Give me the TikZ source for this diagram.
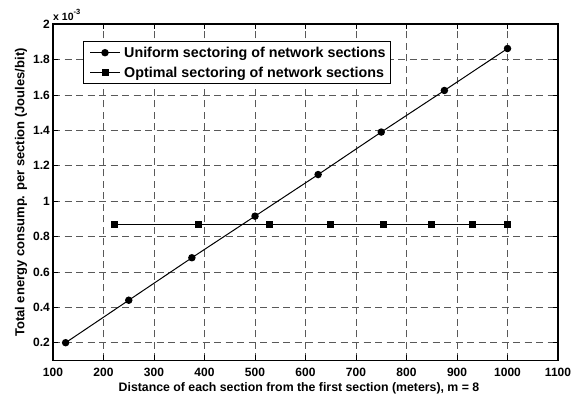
\documentclass[tikz,border=0pt]{standalone}
\usepackage{fontspec}
\setmainfont{Liberation Sans}
\begin{document}
\begin{tikzpicture}[x=1pt,y=1pt,
  font=\bfseries,
  ticklab/.style={font=\bfseries\fontsize{12}{14}\selectfont, inner sep=0pt},
  axlab/.style={font=\bfseries\fontsize{12.3}{14}\selectfont, inner sep=0pt},
  leglab/.style={font=\bfseries\fontsize{14.3}{16}\selectfont, inner sep=0pt, anchor=base west},
  gridline/.style={dash pattern=on 7pt off 4.5pt, black!65, line width=0.7pt},
  tickmark/.style={black, line width=0.7pt},
  frame/.style={black, line width=1.4pt},
  dataline/.style={black, line width=1pt},
  circmark/.style={circle, fill=black, inner sep=0pt, minimum size=7.5pt},
  sqmark/.style={rectangle, fill=black, inner sep=0pt, minimum size=7pt}
]
\useasboundingbox (0,0) rectangle (583,-402);
\fill[white] (0,0) rectangle (583,-402);
\begin{scope}[shift={(2.5pt,-378.1pt)}, x=0.505pt, y=177pt]
  % axes corners
  \coordinate (ll) at (100,0.1);
  \coordinate (ur) at (1100,2.0);
  % grid
  \foreach \X in {200,300,...,1000} \draw[gridline] (\X,0.1) -- (\X,2.0);
  \foreach \Y in {0.2,0.4,...,1.81} \draw[gridline] (100,\Y) -- (1100,\Y);
  % ticks
  \foreach \X in {200,300,...,1000} {
    \draw[tickmark] (\X,0.1) -- ++(0,5pt);
    \draw[tickmark] (\X,2.0) -- ++(0,-5pt);
  }
  \foreach \Y in {0.2,0.4,...,1.81} {
    \draw[tickmark] (100,\Y) -- ++(5pt,0);
    \draw[tickmark] (1100,\Y) -- ++(-5pt,0);
  }
  % tick labels
  \foreach \X in {100,200,...,1100}
    \node[ticklab, anchor=base] (xt\X) at ([yshift=-16.5pt]\X,0.1) {\X};
  \foreach \Y/\L in {0.2/0.2,0.4/0.4,0.6/0.6,0.8/0.8,1.0/1,1.2/1.2,1.4/1.4,1.6/1.6,1.8/1.8,2.0/2}
    \node[ticklab, anchor=east] (yt\L) at ([xshift=-3pt]100,\Y) {\L};
  % uniform data
  \foreach \i/\X/\Y in {1/125/0.2,2/250/0.44,3/375/0.68,4/500/0.915,5/625/1.15,6/750/1.39,7/875/1.625,8/1000/1.862}
    \coordinate (u\i) at (\X,\Y);
  \draw[dataline] (u1) -- (u2) -- (u3) -- (u4) -- (u5) -- (u6) -- (u7) -- (u8);
  \foreach \i in {1,...,8} \node[circmark] (um\i) at (u\i) {};
  % optimal data
  \foreach \i/\X in {1/221,2/388,3/528,4/650,5/754,6/850,7/930,8/1000}
    \coordinate (o\i) at (\X,0.87);
  \draw[dataline] (o1) -- (o2) -- (o3) -- (o4) -- (o5) -- (o6) -- (o7) -- (o8);
  \foreach \i in {1,...,8} \node[sqmark] (om\i) at (o\i) {};
  % frame
  \draw[frame] (ll) rectangle (ur);
\end{scope}
% exponent
\node[anchor=base west, inner sep=0pt, font=\bfseries\fontsize{10.5}{12}\selectfont] (expo) at (53,-20)
  {x 10\raisebox{6pt}{\fontsize{7.5}{8}\selectfont -3}};
% axis labels
\node[axlab, anchor=base] (xlab) at (299,-391) {Distance of each section from the first section (meters), m = 8};
\node[axlab, rotate=90, anchor=center, font=\bfseries\fontsize{13}{15}\selectfont] (ylab) at (21,-192.5) {Total energy consump. per section (Joules/bit)};
% legend
\node[draw=black, line width=0.9pt, fill=white, inner sep=0pt, minimum width=307pt, minimum height=42pt, anchor=north west] (legend) at (83,-40.7) {};
\coordinate (l1a) at (90,-52.7); \coordinate (l1b) at (120,-52.7);
\coordinate (l2a) at (90,-72.7); \coordinate (l2b) at (120,-72.7);
\draw[dataline] (l1a) -- (l1b);
\draw[dataline] (l2a) -- (l2b);
\node[circmark] (lm1) at (105,-52.7) {};
\node[sqmark] (lm2) at (105,-72.7) {};
\node[leglab] (lt1) at (124,-57) {Uniform sectoring of network sections};
\node[leglab] (lt2) at (124,-77) {Optimal sectoring of network sections};
\end{tikzpicture}
\end{document}
